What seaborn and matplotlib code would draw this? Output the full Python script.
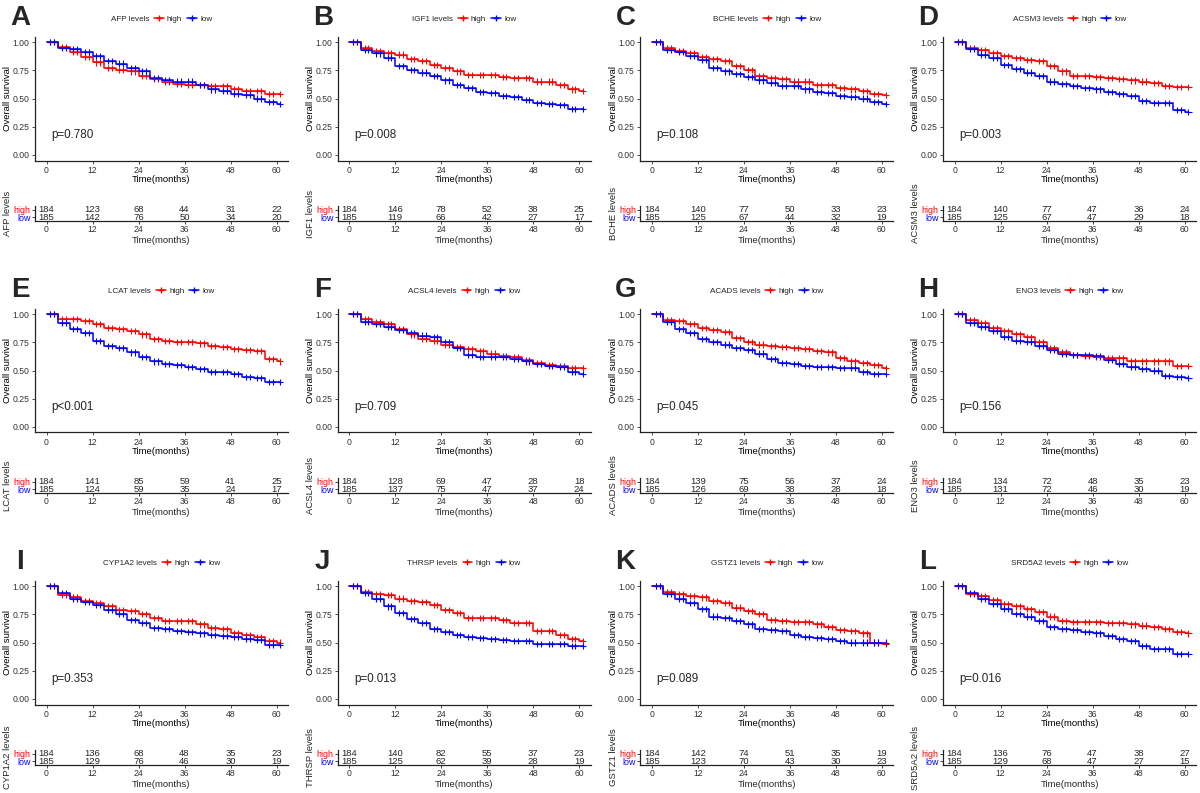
import numpy as np
import pandas as pd
import matplotlib.pyplot as plt
import seaborn as sns
from matplotlib.lines import Line2D

sns.set_style("white")
plt.rcParams["font.family"] = ["Liberation Sans", "DejaVu Sans"]

W, H = 1200, 793

genes = ["AFP", "IGF1", "BCHE", "ACSM3", "LCAT", "ACSL4",
         "ACADS", "ENO3", "CYP1A2", "THRSP", "GSTZ1", "SRD5A2"]
letters = ["A", "B", "C", "D", "E", "F", "G", "H", "I", "J", "K", "L"]
pvals = ["p=0.780", "p=0.008", "p=0.108", "p=0.003", "p<0.001", "p=0.709",
         "p=0.045", "p=0.156", "p=0.353", "p=0.013", "p=0.089", "p=0.016"]

# survival read every 3 months (0..60)
months = [0, 3, 6, 9, 12, 15, 18, 21, 24, 27, 30, 33, 36, 39, 42, 45, 48, 51, 54, 57, 60]
high_surv = {
    "AFP":    [1.0, .96, .91, .87, .82, .77, .75, .74, .70, .67, .65, .63, .62, .62, .61, .61, .58, .57, .57, .54, .54],
    "IGF1":   [1.0, .95, .92, .90, .89, .85, .83, .80, .77, .74, .71, .71, .71, .69, .68, .68, .65, .65, .62, .58, .57],
    "BCHE":   [1.0, .95, .92, .90, .87, .85, .83, .79, .75, .70, .68, .67, .65, .65, .62, .62, .59, .58, .57, .54, .53],
    "ACSM3":  [1.0, .95, .93, .90, .88, .86, .84, .83, .79, .74, .70, .70, .69, .68, .67, .66, .65, .64, .61, .60, .60],
    "LCAT":   [1.0, .96, .96, .94, .91, .88, .87, .85, .82, .78, .76, .75, .75, .74, .72, .71, .69, .68, .67, .60, .58],
    "ACSL4":  [1.0, .96, .93, .91, .87, .82, .78, .76, .73, .71, .69, .67, .65, .63, .62, .59, .57, .55, .54, .52, .52],
    "ACADS":  [1.0, .95, .94, .91, .88, .86, .84, .79, .75, .73, .72, .71, .70, .69, .67, .66, .61, .58, .57, .55, .52],
    "ENO3":   [1.0, .95, .92, .88, .85, .82, .80, .75, .70, .66, .64, .63, .62, .61, .61, .58, .58, .58, .58, .54, .54],
    "CYP1A2": [1.0, .92, .90, .87, .85, .82, .79, .78, .75, .72, .69, .69, .69, .66, .63, .62, .58, .57, .55, .51, .50],
    "THRSP":  [1.0, .95, .93, .92, .89, .87, .86, .83, .79, .76, .72, .72, .72, .70, .67, .67, .60, .60, .57, .53, .51],
    "GSTZ1":  [1.0, .95, .93, .91, .90, .87, .85, .81, .78, .75, .70, .69, .68, .68, .66, .64, .61, .60, .58, .50, .49],
    "SRD5A2": [1.0, .93, .91, .88, .84, .82, .80, .77, .73, .69, .68, .68, .68, .67, .67, .66, .65, .64, .62, .59, .58],
}
low_surv = {
    "AFP":    [1.0, .95, .94, .91, .88, .83, .81, .77, .74, .68, .66, .65, .65, .62, .58, .57, .54, .53, .50, .47, .45],
    "IGF1":   [1.0, .93, .90, .86, .79, .75, .73, .70, .66, .62, .59, .56, .55, .52, .51, .49, .46, .45, .44, .41, .41],
    "BCHE":   [1.0, .93, .91, .88, .84, .77, .74, .72, .69, .66, .64, .61, .61, .58, .56, .55, .52, .51, .50, .47, .45],
    "ACSM3":  [1.0, .94, .89, .86, .80, .76, .73, .70, .65, .63, .61, .59, .58, .56, .54, .52, .48, .46, .46, .40, .38],
    "LCAT":   [1.0, .92, .87, .83, .76, .72, .70, .66, .62, .58, .56, .55, .53, .51, .49, .49, .47, .44, .43, .40, .40],
    "ACSL4":  [1.0, .93, .91, .89, .86, .83, .81, .80, .75, .70, .64, .62, .62, .62, .60, .58, .56, .54, .53, .49, .47],
    "ACADS":  [1.0, .93, .87, .83, .78, .75, .73, .70, .68, .65, .60, .57, .56, .54, .53, .53, .52, .52, .49, .47, .47],
    "ENO3":   [1.0, .92, .89, .85, .80, .76, .75, .72, .68, .65, .64, .64, .63, .59, .56, .53, .51, .50, .45, .44, .43],
    "CYP1A2": [1.0, .94, .89, .86, .83, .79, .75, .70, .67, .63, .62, .60, .59, .58, .57, .56, .55, .53, .52, .48, .48],
    "THRSP":  [1.0, .94, .89, .82, .76, .71, .67, .62, .59, .57, .55, .54, .53, .52, .51, .51, .49, .49, .49, .47, .47],
    "GSTZ1":  [1.0, .93, .89, .85, .80, .73, .72, .69, .66, .62, .61, .60, .57, .55, .54, .53, .51, .50, .50, .50, .50],
    "SRD5A2": [1.0, .94, .89, .84, .80, .75, .73, .69, .64, .62, .61, .59, .58, .56, .53, .51, .47, .44, .44, .40, .40],
}
# censoring marks: every month that is not a step month, plus end of follow-up
censor_times = [1, 2, 4, 5, 7, 8, 10, 11, 13, 14, 16, 17, 19, 20, 22, 23, 25, 26, 28, 29,
                31, 32, 34, 35, 37, 38, 40, 41, 43, 44, 46, 47, 49, 50, 52, 53, 55, 56, 58, 59, 61]

risk_times = [0, 12, 24, 36, 48, 60]
high_risk = {
    "AFP": [184, 123, 68, 44, 31, 22], "IGF1": [184, 146, 78, 52, 38, 25],
    "BCHE": [184, 140, 77, 50, 33, 23], "ACSM3": [184, 140, 77, 47, 36, 24],
    "LCAT": [184, 141, 85, 59, 41, 25], "ACSL4": [184, 128, 69, 47, 28, 18],
    "ACADS": [184, 139, 75, 56, 37, 24], "ENO3": [184, 134, 72, 48, 35, 23],
    "CYP1A2": [184, 136, 68, 48, 35, 23], "THRSP": [184, 140, 82, 55, 37, 23],
    "GSTZ1": [184, 142, 74, 51, 35, 19], "SRD5A2": [184, 136, 76, 47, 38, 27],
}
low_risk = {
    "AFP": [185, 142, 76, 50, 34, 20], "IGF1": [185, 119, 66, 42, 27, 17],
    "BCHE": [185, 125, 67, 44, 32, 19], "ACSM3": [185, 125, 67, 47, 29, 18],
    "LCAT": [185, 124, 59, 35, 24, 17], "ACSL4": [185, 137, 75, 47, 37, 24],
    "ACADS": [185, 126, 69, 38, 28, 18], "ENO3": [185, 131, 72, 46, 30, 19],
    "CYP1A2": [185, 129, 76, 46, 30, 19], "THRSP": [185, 125, 62, 39, 28, 19],
    "GSTZ1": [185, 123, 70, 43, 30, 23], "SRD5A2": [185, 129, 68, 47, 27, 15],
}

pal = {"high": "#FF0000", "low": "#0000FF"}
txt_col = "#333333"


def rect(x, y, w, h):
    return [x / W, 1 - (y + h) / H, w / W, h / H]


def step_val(vals, t):
    i = np.searchsorted(months, t, side="right") - 1
    return vals[i]


fig = plt.figure(figsize=(12, 7.93), dpi=100)

for k, g in enumerate(genes):
    r, c = divmod(k, 4)
    ox, oy = c * 302.7, r * 272

    # curves
    rows = []
    for grp, d in (("high", high_surv), ("low", low_surv)):
        for t, s in zip(months + [61], d[g] + [d[g][-1]]):
            rows.append((t, s, grp))
    df = pd.DataFrame(rows, columns=["time", "surv", "group"])
    cens = pd.DataFrame(
        [(t, step_val(d[g], t), grp) for grp, d in (("high", high_surv), ("low", low_surv))
         for t in censor_times],
        columns=["time", "surv", "group"])

    ax = fig.add_axes(rect(ox + 35, oy + 36.5, 253, 124))
    sns.lineplot(data=df, x="time", y="surv", hue="group", palette=pal,
                 drawstyle="steps-post", estimator=None, legend=False,
                 linewidth=1.1, ax=ax)
    sns.scatterplot(data=cens, x="time", y="surv", hue="group", palette=pal,
                    marker="+", s=20, linewidth=0.8, legend=False, ax=ax)
    ax.set_xlim(-3, 63)
    ax.set_ylim(-0.05, 1.05)
    ax.set_xticks(risk_times)
    ax.set_yticks([0, 0.25, 0.5, 0.75, 1.0])
    ax.set_yticklabels(["0.00", "0.25", "0.50", "0.75", "1.00"])
    ax.tick_params(labelsize=6.2, colors=txt_col, length=2.5, width=0.6,
                   direction="out", left=True, bottom=True, pad=1.5)
    for sp in ["top", "right"]:
        ax.spines[sp].set_visible(False)
    for sp in ["left", "bottom"]:
        ax.spines[sp].set_color("#222222")
        ax.spines[sp].set_linewidth(0.9)
    ax.set_xlabel("Time(months)", fontsize=6.8, color="black")
    ax.set_ylabel("Overall survival", fontsize=6.8, color="black")
    ax.xaxis.set_label_coords(0.5, -0.118)
    ax.yaxis.set_label_coords(-0.09, 0.5)
    ax.text(1.2, 0.18, pvals[k], fontsize=8.4, va="center", ha="left")

    # legend with inline title
    handles = [Line2D([], [], linestyle="none", label=f"{g} levels"),
               Line2D([], [], color=pal["high"], marker="+", markersize=4, lw=1.1, label="high"),
               Line2D([], [], color=pal["low"], marker="+", markersize=4, lw=1.1, label="low")]
    fig.legend(handles=handles, ncol=3, frameon=False, fontsize=5.9,
               loc="center", bbox_to_anchor=((ox + 155) / W, 1 - (oy + 19) / H),
               handlelength=1.2, handletextpad=0.4, columnspacing=0.6)

    fig.text((ox + 20) / W, 1 - (oy + 18) / H, letters[k], fontsize=20,
             fontweight="bold", ha="center", va="center")

    # risk table
    axr = fig.add_axes(rect(ox + 35, oy + 206, 253, 15))
    axr.set_xlim(-3, 63)
    axr.set_ylim(0.5, 2.5)
    for t, n1, n2 in zip(risk_times, high_risk[g], low_risk[g]):
        axr.text(t, 2, str(n1), ha="center", va="center", fontsize=6.8)
        axr.text(t, 1, str(n2), ha="center", va="center", fontsize=6.8)
    axr.set_xticks(risk_times)
    axr.set_yticks([2, 1])
    axr.set_yticklabels(["high", "low"])
    for lab, grp in zip(axr.get_yticklabels(), ["high", "low"]):
        lab.set_color(pal[grp])
    axr.tick_params(labelsize=6.4, length=2, width=0.6, direction="out",
                    left=True, bottom=True, pad=1.2)
    for lab in axr.get_xticklabels():
        lab.set_color(txt_col)
        lab.set_fontsize(6.2)
    for sp in ["top", "right"]:
        axr.spines[sp].set_visible(False)
    for sp in ["left", "bottom"]:
        axr.spines[sp].set_color("#222222")
        axr.spines[sp].set_linewidth(0.9)
    axr.set_xlabel("Time(months)", fontsize=6.8)
    axr.set_ylabel(f"{g} levels", fontsize=6.8)
    axr.xaxis.set_label_coords(0.5, -0.98)
    axr.yaxis.set_label_coords(-0.09, 0.5)

fig.savefig("out.png", dpi=100, facecolor="white")
